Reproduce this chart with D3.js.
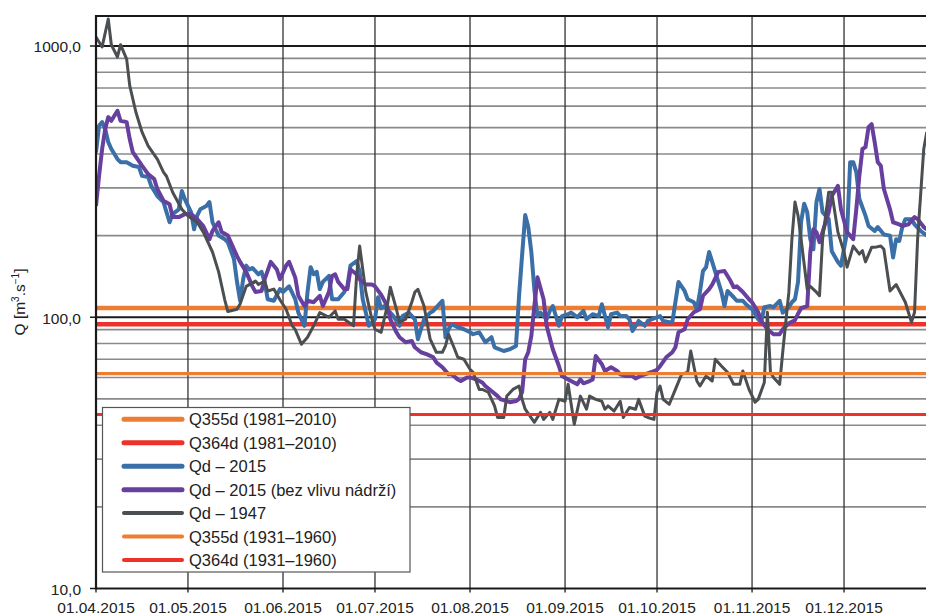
<!DOCTYPE html>
<html><head><meta charset="utf-8">
<script src="https://cdn.jsdelivr.net/npm/d3@7"></script>
<style>body{margin:0;background:#fff;} svg{display:block;font-family:"Liberation Sans",Arial,sans-serif;}</style>
</head><body><svg id="c" width="926" height="615"></svg>
<script>
const startDate = "2015-04-01";
const endDate = "2015-12-31";
const monthTicks = ["2015-04-01","2015-05-01","2015-06-01","2015-07-01","2015-08-01","2015-09-01","2015-10-01","2015-11-01","2015-12-01"];
const yMajorTicks = [10, 100, 1000];
const yTickLabels = ["10,0", "100,0", "1000,0"];
const yMinorTicks = [20,30,40,50,60,70,80,90,200,300,400,500,600,700,800,900];
const yMax = 1290;

// reference (threshold) lines
const refNames = ["Q355d (1981–2010)", "Q364d (1981–2010)", "Q355d (1931–1960)", "Q364d (1931–1960)"];
const refValues = [108.2, 94.2, 62.0, 43.8];

const seriesNames = ["Qd – 2015", "Qd – 2015 (bez vlivu nádrží)", "Qd – 1947"];

// [day offset from 1 April, discharge m3/s]
const qd2015 = [[0,405],[1,508],[2,524],[3,494],[4,442],[5,417],[7,383],[8,373],[10,373],[12,362],[14,358],[15,332],[17,329],[18,305],[20,280],[22,266],[23,244],[24,224],[25,240],[27,250],[28,292],[29,272],[31,244],[32,211],[33,237],[34,250],[36,257],[37,266],[38,224],[40,200],[42,194],[43,189],[45,164],[46,135],[47,115],[48,138],[49,155],[50,150],[51,152],[53,144],[54,147],[55,135],[56,116.5],[58,115],[60,127],[61,124],[63,130],[65,116.5],[66,104],[68,93],[69,124],[70,153],[71,144],[72,147],[73,127],[74,135],[76,142],[77,116.5],[79,116.5],[81,124],[82,130],[83,155],[85,161],[86,147],[87,116.5],[89,93],[91,98.3],[92,118.5],[93,108],[94,110],[96,104],[97,101],[99,93],[100,101],[102,104],[104,98.3],[105,83],[107,98.3],[109,104],[110,105.5],[112,111.7],[113,115],[114,84.4],[115,90.3],[116,94.2],[118,91.9],[120,90.3],[122,88],[123,86.6],[125,88],[127,80.9],[129,84.4],[130,77.5],[133,75.1],[135,76.2],[137,78.4],[138,120],[139,170],[140,238],[141,215],[142,174],[143,126],[144,101],[145,104],[147,98.3],[148,105.5],[149,110],[151,93],[152,101],[154,102.6],[155,104],[157,100],[159,105.5],[160,98.3],[162,102.6],[164,101],[165,111.7],[167,91.9],[168,102.6],[170,104],[171,101],[173,101],[174,98.3],[175,89],[177,96.9],[179,93],[180,96.9],[183,100],[184,101],[185,96.9],[187,95.8],[188,95.8],[190,135],[192,125],[193,116.5],[195,113.6],[196,107],[197,124],[198,148],[199,153],[200,174],[201,160],[202,147],[204,124],[205,110],[206,125],[208,118.5],[209,115],[211,115],[212,111.7],[214,107],[216,98.3],[217,95.8],[218,108.9],[220,110],[221,108.9],[223,115],[224,104],[226,108.9],[227,113.6],[228,116.5],[229,135],[230,225],[231,262],[232,244],[233,194],[234,178],[235,266],[236,297],[237,244],[239,230],[240,175],[242,160],[243,155],[245,206],[246,373],[247,373],[248,343],[249,273],[251,237],[252,217],[254,208],[255,215],[257,202],[259,200],[260,166],[261,194],[262,191],[263,215],[264,230],[266,230],[267,220],[269,208],[271,200]];

const qd2015Natural = [[0,257],[1,332],[2,417],[3,494],[4,547],[5,530],[6,553],[7,577],[8,530],[10,524],[11,454],[12,406],[15,362],[17,337],[19,323],[20,297],[22,269],[24,261],[25,234],[27,234],[29,240],[31,240],[33,230],[35,217],[37,194],[38,208],[40,224],[41,206],[43,200],[45,178],[46,168],[47,160],[49,147],[51,130],[52,124],[54,125],[55,138],[57,160],[59,150],[60,138],[62,155],[63,160],[65,140],[66,120],[68,110],[69,115],[71,113.6],[73,120],[74,110],[76,124],[77,142],[78,144],[79,135],[81,127],[82,127],[83,150],[85,144],[86,138],[88,132],[90,132],[91,130],[93,121],[95,110],[96,98.3],[98,88],[99,84.4],[101,80.9],[103,81.8],[104,77.5],[106,74.3],[108,73],[110,71.2],[111,68.2],[113,65.4],[115,61.6],[116,61.6],[118,59],[119,58.2],[121,60],[122,60],[124,59],[126,57.5],[127,55.8],[129,53.5],[131,51.2],[132,49.8],[134,49.1],[135,48.6],[137,49.1],[138,50],[139,53],[140,70],[141,74.3],[142,85.3],[143,110],[144,140.5],[146,116.5],[147,92.9],[149,76.2],[151,66.1],[152,60.7],[154,59],[157,56.6],[158,59],[159,57.1],[161,58.2],[162,59],[163,72],[165,67.1],[166,63.4],[168,65.4],[170,63.4],[171,61.6],[173,60.7],[175,60.7],[176,59.5],[178,61],[179,61.6],[181,62.7],[183,64],[184,66],[186,71.2],[188,74.3],[189,77.5],[190,88],[192,90.3],[193,98.3],[195,104.3],[197,107],[198,120],[200,127],[201,132],[203,147],[205,148],[207,136],[208,129],[209,130],[211,124],[213,116.5],[214,113.6],[216,104.3],[217,96.9],[219,90.3],[221,86.6],[223,86.6],[224,90.3],[226,95],[228,97.5],[229,103],[230,108],[232,110],[233,174],[234,211],[235,206],[236,189],[237,206],[239,244],[240,280],[242,305],[243,250],[245,206],[247,194],[248,250],[249,332],[250,417],[251,424],[252,502],[253,515],[254,442],[255,373],[256,362],[257,297],[259,250],[260,224],[262,220],[263,217],[265,220],[267,234],[268,230],[270,215],[271,211]];

const qd1947 = [[0,1080],[2,992],[4,1258],[5,1011],[7,911],[8,1011],[10,895],[11,714],[13,571],[15,482],[17,428],[20,383],[22,343],[23,331],[25,289],[28,250],[30,236],[33,224],[35,206],[38,174],[40,147],[42,116],[43,105],[46,107],[47,112],[49,130],[52,136],[53,132],[55,136],[56,125],[58,127],[60,116],[62,107],[64,93],[65,90],[67,79.5],[69,84.4],[71,93],[73,104],[76,100],[78,105.5],[79,98.3],[81,98.3],[84,93],[85,142],[86,183],[88,124],[90,98.3],[91,90.3],[93,88],[95,110],[96,129],[98,107],[99,95.8],[101,98.3],[103,113.6],[104,123.7],[105,126.8],[107,110],[109,83],[111,74.3],[113,74.3],[114,78.4],[115,86.6],[117,76.2],[118,71.2],[120,70],[122,64.3],[123,62.7],[125,54.2],[126,54.2],[128,52.9],[130,47.1],[131,42.7],[133,42.7],[134,51.2],[136,54.2],[138,55.8],[139,49.8],[140,45.8],[143,41],[145,44.6],[146,42],[148,44.6],[149,42],[151,49.8],[153,49],[154,56.6],[156,40.3],[158,51.2],[160,45.8],[161,51.2],[163,49.8],[165,49],[166,45.8],[167,47.1],[169,45.1],[171,49],[172,42.7],[174,46.5],[176,45.8],[177,49.8],[179,43.2],[180,42.7],[182,42],[183,52.9],[184,55.8],[185,49.8],[187,47.8],[189,54.2],[191,61.6],[193,62.7],[194,75.1],[196,58.2],[197,55.8],[199,60.7],[201,58.2],[202,70],[204,66.1],[206,62.7],[208,56.6],[210,56.6],[211,63.4],[213,54.2],[215,48.6],[216,49.8],[218,57.5],[219,104.3],[220,62.7],[221,60],[223,56.6],[224,74.3],[226,123.7],[227,194],[228,266],[229,237],[230,194],[232,126.8],[233,130],[235,123.7],[236,120],[237,194],[239,289],[240,289],[242,206],[244,174],[245,153],[247,183],[249,171],[250,176],[251,160],[253,181],[254,181],[256,183],[257,178],[259,125],[261,132],[264,113.6],[266,95.8],[267,104.3],[268,194],[270,417],[271,482]];

const colors = {orange:"#ED7D31", red:"#EE3129", blue:"#3A6FA8", purple:"#673F9E", gray:"#4B4F52"};

const parse = d3.utcParse("%Y-%m-%d");
const t0 = parse(startDate);
const svg = d3.select("#c");
const L = 96, R = 936, T = 16, B = 588.5;
const x = d3.scaleUtc().domain([t0, parse(endDate)]).range([L, R]);
const y = d3.scaleLog().domain([10, yMax]).range([B, T]);
const dayX = d => x(d3.utcDay.offset(t0, d));

svg.append("defs").append("clipPath").attr("id","plot").append("rect")
  .attr("x", L).attr("y", T).attr("width", R - L).attr("height", B - T);

// minor horizontal grid
svg.append("g").selectAll("line").data(yMinorTicks).join("line")
  .attr("x1", L).attr("x2", R).attr("y1", d => y(d)).attr("y2", d => y(d))
  .attr("stroke", "#8a8a8a").attr("stroke-width", 1.6);
// vertical grid
svg.append("g").selectAll("line").data(monthTicks.slice(1)).join("line")
  .attr("x1", d => x(parse(d))).attr("x2", d => x(parse(d))).attr("y1", T).attr("y2", B)
  .attr("stroke", "#333").attr("stroke-width", 1.3);
// major horizontal grid
svg.append("g").selectAll("line").data(yMajorTicks.slice(1)).join("line")
  .attr("x1", L).attr("x2", R).attr("y1", d => y(d)).attr("y2", d => y(d))
  .attr("stroke", "#1a1a1a").attr("stroke-width", 2);

const plot = svg.append("g").attr("clip-path", "url(#plot)");
const line = d3.line().x(d => dayX(d[0])).y(d => y(d[1])).curve(d3.curveLinear);

function refLine(i, color, w) {
  plot.append("line").attr("x1", L).attr("x2", R)
    .attr("y1", y(refValues[i])).attr("y2", y(refValues[i]))
    .attr("stroke", color).attr("stroke-width", w);
}
refLine(0, colors.orange, 4.5);
refLine(1, colors.red, 4.5);
plot.append("path").datum(qd2015).attr("d", line).attr("fill","none")
  .attr("stroke", colors.blue).attr("stroke-width", 4).attr("stroke-linejoin","round");
plot.append("path").datum(qd2015Natural).attr("d", line).attr("fill","none")
  .attr("stroke", colors.purple).attr("stroke-width", 4).attr("stroke-linejoin","round");
plot.append("path").datum(qd1947).attr("d", line).attr("fill","none")
  .attr("stroke", colors.gray).attr("stroke-width", 3).attr("stroke-linejoin","round");
refLine(2, colors.orange, 3.2);
refLine(3, colors.red, 3.2);

// frame / axes
svg.append("line").attr("x1", L).attr("x2", R).attr("y1", T).attr("y2", T).attr("stroke","#1a1a1a").attr("stroke-width",2);
svg.append("line").attr("x1", L).attr("x2", R).attr("y1", B).attr("y2", B).attr("stroke","#1a1a1a").attr("stroke-width",2.2);
svg.append("line").attr("x1", L).attr("x2", L).attr("y1", T - 1).attr("y2", B + 1).attr("stroke","#1a1a1a").attr("stroke-width",2.2);

// y ticks + labels
const yg = svg.append("g");
yg.selectAll("line").data(yMajorTicks).join("line")
  .attr("x1", L - 6).attr("x2", L).attr("y1", d => y(d)).attr("y2", d => y(d))
  .attr("stroke", "#1a1a1a").attr("stroke-width", 1.5);
yg.selectAll("text").data(yMajorTicks).join("text")
  .attr("x", 81).attr("y", d => y(d) + 1).attr("dy", "0.35em").attr("text-anchor", "end")
  .attr("font-size", 15.5).attr("fill", "#222").text((d, i) => yTickLabels[i]);

// x ticks + labels
const xg = svg.append("g");
xg.selectAll("line").data(monthTicks).join("line")
  .attr("x1", d => x(parse(d))).attr("x2", d => x(parse(d))).attr("y1", B).attr("y2", B + 4)
  .attr("stroke", "#1a1a1a").attr("stroke-width", 1.3);
const fmt = d3.utcFormat("%d.%m.%Y");
xg.selectAll("text").data(monthTicks).join("text")
  .attr("x", d => x(parse(d))).attr("y", 613).attr("text-anchor", "middle")
  .attr("font-size", 15.5).attr("fill", "#222").text(d => fmt(parse(d)));

// y title
const yt = svg.append("text").attr("transform", "translate(25,302) rotate(-90)")
  .attr("text-anchor", "middle").attr("font-size", 15.5).attr("fill", "#222");
yt.append("tspan").text("Q [m");
yt.append("tspan").attr("font-size", 10).attr("dy", -6).text("3");
yt.append("tspan").attr("dy", 6).text(".s");
yt.append("tspan").attr("font-size", 10).attr("dy", -6).text("−1");
yt.append("tspan").attr("dy", 6).text("]");

// legend
const legendItems = [
  {name: refNames[0], color: colors.orange, w: 5},
  {name: refNames[1], color: colors.red, w: 5},
  {name: seriesNames[0], color: colors.blue, w: 5},
  {name: seriesNames[1], color: colors.purple, w: 5},
  {name: seriesNames[2], color: colors.gray, w: 4},
  {name: refNames[2], color: colors.orange, w: 4},
  {name: refNames[3], color: colors.red, w: 4}
];
const lg = svg.append("g");
lg.append("rect").attr("x", 102.5).attr("y", 407.5).attr("width", 307.5).attr("height", 164.5)
  .attr("fill", "#fff").attr("stroke", "#555").attr("stroke-width", 1.2);
const rows = lg.selectAll("g").data(legendItems).join("g")
  .attr("transform", (d, i) => `translate(0,${419.3 + i * 23.45})`);
rows.append("line").attr("x1", 124).attr("x2", 182).attr("y1", 0).attr("y2", 0)
  .attr("stroke", d => d.color).attr("stroke-width", d => d.w).attr("stroke-linecap", "round");
rows.append("text").attr("x", 189).attr("y", 0).attr("dy", "0.36em")
  .attr("font-size", 16.5).attr("fill", "#222").text(d => d.name);
</script></body></html>
